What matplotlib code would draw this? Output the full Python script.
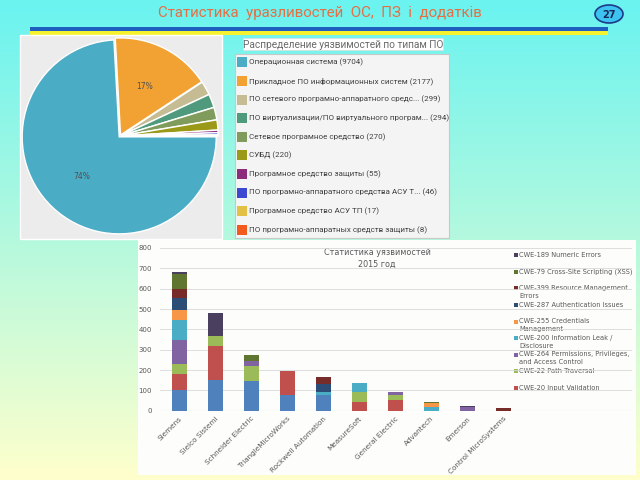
import numpy as np
import matplotlib
matplotlib.use("Agg")
import matplotlib.pyplot as plt
from matplotlib.patches import Rectangle, Ellipse

NARROW = ['Liberation Sans Narrow', 'Roboto', 'DejaVu Sans']

# slide title
title = "Статистика  уразливостей  ОС,  ПЗ  і  додатків"
page_no = "27"

# pie: vulnerabilities by software type
pie_title = "Распределение уязвимостей по типам ПО"
sw_types = ["Операционная система",
            "Прикладное ПО информационных систем",
            "ПО сетевого програмно-аппаратного средс...",
            "ПО виртуализации/ПО виртуального програм...",
            "Сетевое програмное средство",
            "СУБД",
            "Програмное средство защиты",
            "ПО програмно-аппаратного средства АСУ Т...",
            "Програмное средство АСУ ТП",
            "ПО програмно-аппаратных средств защиты"]
sw_counts = [9704, 2177, 299, 294, 270, 220, 55, 46, 17, 8]
sw_colors = ["#4BACC6", "#F2A232", "#C6BC93", "#4F9A7D", "#7F9C5C",
             "#9A9A18", "#8E2C7C", "#3C48D2", "#E2C043", "#F35A1D"]

# stacked bars: vendors x CWE, 2015
bar_title = "Статистика уязвимостей\n2015 год"
vendors = ["Siemens", "Sielco Sistemi", "Schneider Electric", "TriangleMicroWorks",
           "Rockwell Automation", "MeasureSoft", "General Electric", "Advantech",
           "Emerson", "Control MicroSystems"]
# bottom -> top
cwe_names = ["Other",
             "CWE-20 Input Validation",
             "CWE-22 Path Traversal",
             "CWE-264 Permissions, Privileges,\nand Access Control",
             "CWE-200 Information Leak /\nDisclosure",
             "CWE-255 Credentials\nManagement",
             "CWE-287 Authentication Issues",
             "CWE-399 Resource Management\nErrors",
             "CWE-79 Cross-Site Scripting (XSS)",
             "CWE-189 Numeric Errors"]
cwe_colors = ["#4F81BD", "#C0504D", "#9BBB59", "#8064A2", "#4BACC6",
              "#F79646", "#2C4D75", "#772C2A", "#5F7530", "#4A3F5E"]
other = [100, 152, 146, 77, 77, 0, 0, 0, 0, 0]
cwe20 = [80, 165, 0, 118, 0, 44, 53, 0, 0, 0]
cwe22 = [48, 52, 75, 0, 0, 46, 24, 0, 0, 0]
cwe264 = [121, 0, 25, 0, 0, 0, 13, 0, 18, 0]
cwe200 = [96, 0, 0, 0, 16, 45, 0, 20, 0, 0]
cwe255 = [52, 0, 0, 0, 0, 0, 0, 16, 0, 0]
cwe287 = [57, 0, 0, 0, 38, 0, 0, 0, 0, 0]
cwe399 = [46, 0, 0, 0, 36, 0, 0, 0, 0, 12]
cwe79 = [72, 0, 28, 0, 0, 0, 0, 8, 0, 0]
cwe189 = [10, 110, 0, 0, 0, 0, 0, 0, 5, 0]
series = [other, cwe20, cwe22, cwe264, cwe200, cwe255, cwe287, cwe399, cwe79, cwe189]


def px(x0, y0, x1, y1):
    # pixel box -> figure fraction
    return [x0 / 640, 1 - y1 / 480, (x1 - x0) / 640, (y1 - y0) / 480]


fig = plt.figure(figsize=(6.4, 4.8), dpi=100)

# background layer in pixel coords
bg = fig.add_axes([0, 0, 1, 1])
bg.set_xlim(0, 640)
bg.set_ylim(480, 0)
bg.axis('off')
grad = np.linspace(0, 1, 256)[:, None, None]
top = np.array([0x6A, 0xF3, 0xF0]) / 255
bot = np.array([0xFF, 0xFF, 0xCC]) / 255
img = top * (1 - grad) + bot * grad
bg.imshow(np.repeat(img, 2, axis=1), extent=(0, 640, 480, 0), aspect='auto', zorder=0)

bg.text(320, 13, title, ha='center', va='center', fontsize=10.8,
        color='#E56F45', family=NARROW)
bg.add_patch(Rectangle((30, 27), 578, 3.5, color='#1F5FBF', lw=0))
bg.add_patch(Rectangle((30, 31), 578, 4, color='#F6F22E', lw=0))
bg.add_patch(Ellipse((609, 14), 28, 18, facecolor='#3CC3EF', edgecolor='#1E3A8A', lw=1.2))
bg.text(609, 14.5, page_no, ha='center', va='center', fontsize=7, weight='bold', color='#16275A')

# pie panel
bg.add_patch(Rectangle((20, 35), 202, 204, facecolor='#ECECEC', edgecolor='white', lw=1))
# legend panel
bg.add_patch(Rectangle((243, 38), 200, 12, facecolor='white', edgecolor='#DDDDDD', lw=0.5))
bg.text(343, 44.5, pie_title, ha='center', va='center', fontsize=7.3,
        color='#6A6A6A', family=NARROW)
bg.add_patch(Rectangle((235, 54), 214, 184, facecolor='#F4F4F4', edgecolor='#C8C8C8', lw=0.8))
for i, (name, cnt, col) in enumerate(zip(sw_types, sw_counts, sw_colors)):
    y = 62.3 + 18.6 * i
    bg.add_patch(Rectangle((237, y - 5), 10, 10, facecolor=col, edgecolor='none'))
    bg.text(249, y, f"{name} ({cnt})", ha='left', va='center', fontsize=5.8,
            color='#404040', family=NARROW)

# bar panel
bg.add_patch(Rectangle((138, 240), 498, 235, facecolor='#FDFDFB', edgecolor='none'))
bg.text(377, 258.5, bar_title, ha='center', va='center', fontsize=5.8,
        color='#595959', linespacing=1.35)
for i, (name, col) in enumerate(list(zip(cwe_names, cwe_colors))[:0:-1]):
    y = 255.3 + 16.55 * i
    bg.add_patch(Rectangle((513.5, y - 2), 4, 4, facecolor=col, edgecolor='none'))
    bg.text(519, y - 3.2, name, ha='left', va='top', fontsize=4.8, color='#595959',
            linespacing=1.4)

# pie
axp = fig.add_axes(px(22, 38, 218, 234))
axp.pie(sw_counts, colors=sw_colors, startangle=0, counterclock=False,
        explode=[0.012] * len(sw_counts),
        wedgeprops=dict(edgecolor='white', linewidth=1.0),
        autopct=lambda p: f"{p:.0f}%" if p > 10 else "", pctdistance=0.56,
        textprops=dict(fontsize=5.5, color='#505050'))
axp.set_xlim(-1.01, 1.01)
axp.set_ylim(-1.01, 1.01)
axp.set_aspect('equal')

# stacked bars
axb = fig.add_axes(px(160, 248, 632, 410.7))
axb.patch.set_alpha(0)
x = np.arange(len(vendors))
bottom = np.zeros(len(vendors))
for vals, col in zip(series, cwe_colors):
    axb.bar(x, vals, bottom=bottom, width=0.42, color=col, zorder=3)
    bottom += np.array(vals)
axb.set_ylim(0, 800)
axb.set_xlim(-0.53, 12.58)
axb.set_yticks(range(0, 801, 100))
axb.yaxis.grid(True, color='#D9D9D9', lw=0.6, zorder=0)
axb.axhline(0, color='#C8C8C8', lw=0.8, zorder=2)
for s in axb.spines.values():
    s.set_visible(False)
axb.tick_params(length=0, labelsize=5, labelcolor='#595959')
axb.tick_params(axis='y', pad=6)
axb.set_xticks(x)
axb.set_xticklabels(vendors, rotation=45, ha='right', rotation_mode='anchor', fontsize=5.2)

fig.savefig("out.png", dpi=100)
